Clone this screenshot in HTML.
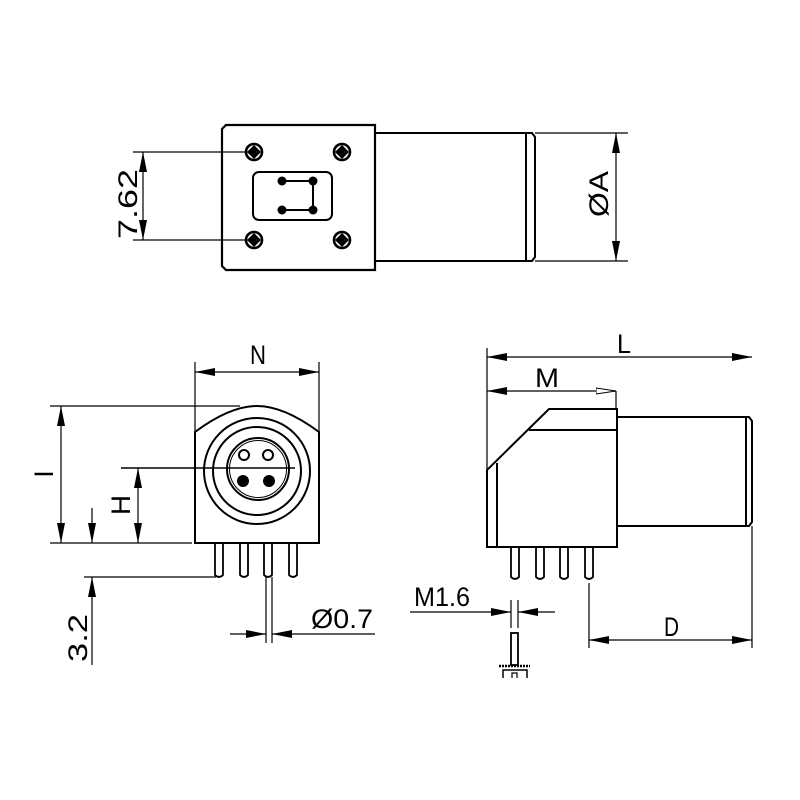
<!DOCTYPE html>
<html><head><meta charset="utf-8"><style>
html,body{margin:0;padding:0;background:#fff;width:800px;height:800px;overflow:hidden}
text{font-family:"Liberation Sans",sans-serif;fill:#000}
</style></head><body>
<svg width="800" height="800" viewBox="0 0 800 800" xmlns="http://www.w3.org/2000/svg">
<defs>
<marker id="a" viewBox="0 0 20 8" refX="20" refY="4" markerWidth="20" markerHeight="8" markerUnits="userSpaceOnUse" orient="auto-start-reverse"><path d="M0,0 L20,4 L0,8 Z" fill="#000"/></marker>
<marker id="h" viewBox="0 0 20 8" refX="20" refY="4" markerWidth="20" markerHeight="8" markerUnits="userSpaceOnUse" orient="auto"><path d="M0,1 L20,4 L0,7 Z" fill="#fff" stroke="#000" stroke-width="1"/></marker>
</defs>
<g fill="none" stroke="#000" stroke-width="1.2">
<!-- TOP VIEW -->
<path d="M226,125 L375,125 L375,270 L226,270 L222,266 L222,129 Z" stroke-width="2.2"/>
<path d="M375,133 L526,133 L526,261 L375,261" stroke-width="2"/>
<path d="M526,133 L532,133 L535,137 L535,257 L532,261 L526,261" stroke-width="2"/>
<rect x="253" y="172" width="79" height="48" rx="6" stroke-width="2"/>
<path d="M282,181 L313,181 L313,210 L282,210" stroke-width="2"/>
<g fill="#000" stroke="none">
<circle cx="282" cy="181" r="4.5"/><circle cx="313" cy="181" r="4.5"/><circle cx="282" cy="210" r="4.5"/><circle cx="313" cy="210" r="4.5"/>
</g>
<g stroke-width="2.6">
<circle cx="254" cy="152" r="8"/><circle cx="342" cy="152" r="8"/><circle cx="254" cy="240" r="8"/><circle cx="342" cy="240" r="8"/>
</g>
<g fill="#000" stroke="none">
<path d="M254,145 L261,152 L254,159 L247,152Z"/><path d="M342,145 L349,152 L342,159 L335,152Z"/>
<path d="M254,233 L261,240 L254,247 L247,240Z"/><path d="M342,233 L349,240 L342,247 L335,240Z"/>
</g>
<line x1="133" y1="152" x2="246" y2="152"/><line x1="133" y1="240" x2="246" y2="240"/>
<line x1="143" y1="176" x2="143" y2="152" marker-end="url(#a)"/>
<line x1="143" y1="216" x2="143" y2="240" marker-end="url(#a)"/>
<line x1="143" y1="176" x2="143" y2="216"/>
<line x1="535" y1="133" x2="628" y2="133"/><line x1="535" y1="261" x2="628" y2="261"/>
<line x1="616" y1="197" x2="616" y2="133" marker-end="url(#a)"/>
<line x1="616" y1="197" x2="616" y2="261" marker-end="url(#a)"/>

<!-- FRONT VIEW -->
<path d="M195,543 L195,432 Q230,406 257,406 Q284,406 319,432 L319,543 Z" stroke-width="2"/>
<circle cx="257" cy="471" r="53" stroke-width="2"/>
<circle cx="257" cy="471" r="44" stroke-width="2"/>
<circle cx="258" cy="469" r="31" stroke-width="2"/>
<circle cx="258" cy="469" r="28.5" stroke-width="1"/>
<circle cx="244" cy="455" r="5" stroke-width="2"/><circle cx="268" cy="455" r="5" stroke-width="2"/>
<circle cx="243" cy="481" r="6" fill="#000" stroke="none"/><circle cx="269" cy="481" r="6" fill="#000" stroke="none"/>
<line x1="121" y1="468" x2="295" y2="468" stroke-width="1.5"/>
<g stroke-width="1.8">
<path d="M215,543 V575 Q219,579 223,575 V543"/>
<path d="M240,543 V575 Q244,579 248,575 V543"/>
<path d="M264,543 V575 Q268,579 272,575 V543"/>
<path d="M289,543 V575 Q293,579 297,575 V543"/>
</g>
<line x1="50" y1="406" x2="240" y2="406"/><line x1="50" y1="543" x2="192" y2="543"/>
<line x1="61" y1="474" x2="61" y2="406" marker-end="url(#a)"/><line x1="61" y1="474" x2="61" y2="543" marker-end="url(#a)"/>
<line x1="138" y1="505" x2="138" y2="468" marker-end="url(#a)"/><line x1="138" y1="505" x2="138" y2="543" marker-end="url(#a)"/>
<line x1="92" y1="508" x2="92" y2="543" marker-end="url(#a)"/>
<line x1="92" y1="665" x2="92" y2="577" marker-end="url(#a)"/>
<line x1="84" y1="577" x2="216" y2="577"/>
<line x1="195" y1="362" x2="195" y2="432"/><line x1="319" y1="362" x2="319" y2="432"/>
<line x1="257" y1="372" x2="195" y2="372" marker-end="url(#a)"/><line x1="257" y1="372" x2="319" y2="372" marker-end="url(#a)"/>
<line x1="266" y1="577" x2="266" y2="643"/><line x1="272" y1="577" x2="272" y2="643"/>
<line x1="230" y1="634" x2="266" y2="634" marker-end="url(#a)"/>
<line x1="375" y1="634" x2="272" y2="634" marker-end="url(#a)"/>

<!-- SIDE VIEW -->
<path d="M487,547 L487,470 L549,409 L617,409 L617,547 Z" stroke-width="2"/>
<line x1="497" y1="463" x2="497" y2="547" stroke-width="2"/>
<line x1="529" y1="430" x2="617" y2="430" stroke-width="2"/>
<path d="M617,417 L746,417 L746,526 L617,526" stroke-width="2"/>
<path d="M746,417 L749,417 L752,421 L752,522 L749,526 L746,526" stroke-width="2"/>
<g stroke-width="1.8">
<path d="M511,547 V577 Q515,581 519,577 V547"/>
<path d="M536,547 V577 Q540,581 544,577 V547"/>
<path d="M560,547 V577 Q564,581 568,577 V547"/>
<path d="M585,547 V577 Q589,581 593,577 V547"/>
</g>
<line x1="487" y1="348" x2="487" y2="470"/>
<line x1="620" y1="357" x2="487" y2="357" marker-end="url(#a)"/><line x1="620" y1="357" x2="752" y2="357" marker-end="url(#a)"/>
<line x1="550" y1="391" x2="487" y2="391" marker-end="url(#a)"/><line x1="550" y1="391" x2="616" y2="391" marker-end="url(#h)"/>
<line x1="616" y1="391" x2="616" y2="409"/>
<line x1="589" y1="583" x2="589" y2="648"/><line x1="752" y1="526" x2="752" y2="648"/>
<line x1="670" y1="640" x2="589" y2="640" marker-end="url(#a)"/><line x1="670" y1="640" x2="752" y2="640" marker-end="url(#a)"/>
<line x1="410" y1="612" x2="511" y2="612" marker-end="url(#a)"/>
<line x1="555" y1="612" x2="518" y2="612" marker-end="url(#a)"/>
<line x1="511" y1="600" x2="511" y2="628"/><line x1="518" y1="600" x2="518" y2="628"/>
<rect x="511" y="633" width="7" height="32" stroke-width="1.8"/>
<line x1="499" y1="666" x2="530" y2="666" stroke-width="2.5" stroke-dasharray="2,1"/>
<path d="M503,678 V670 H527 V678" stroke-width="1.5"/>
<path d="M512,678 V673 H517 V678" stroke-width="1.2"/>
</g>
<g font-size="27">
<text transform="translate(137,204) rotate(-90)" text-anchor="middle" textLength="70" lengthAdjust="spacingAndGlyphs">7.62</text>
<text transform="translate(608,194) rotate(-90)" text-anchor="middle" textLength="46" lengthAdjust="spacingAndGlyphs">ØA</text>
<text x="258" y="364" text-anchor="middle" textLength="16" lengthAdjust="spacingAndGlyphs">N</text>
<text transform="translate(53,474) rotate(-90)" text-anchor="middle">I</text>
<text transform="translate(130,505) rotate(-90)" text-anchor="middle" textLength="20" lengthAdjust="spacingAndGlyphs">H</text>
<text transform="translate(87,638) rotate(-90)" text-anchor="middle" textLength="48" lengthAdjust="spacingAndGlyphs">3.2</text>
<text x="311" y="628" textLength="62" lengthAdjust="spacingAndGlyphs">Ø0.7</text>
<text x="617" y="353" textLength="14" lengthAdjust="spacingAndGlyphs">L</text>
<text x="535" y="387" textLength="24" lengthAdjust="spacingAndGlyphs">M</text>
<text x="414" y="606" textLength="56" lengthAdjust="spacingAndGlyphs">M1.6</text>
<text x="664" y="636" textLength="15" lengthAdjust="spacingAndGlyphs">D</text>
</g>
</svg>
</body></html>
